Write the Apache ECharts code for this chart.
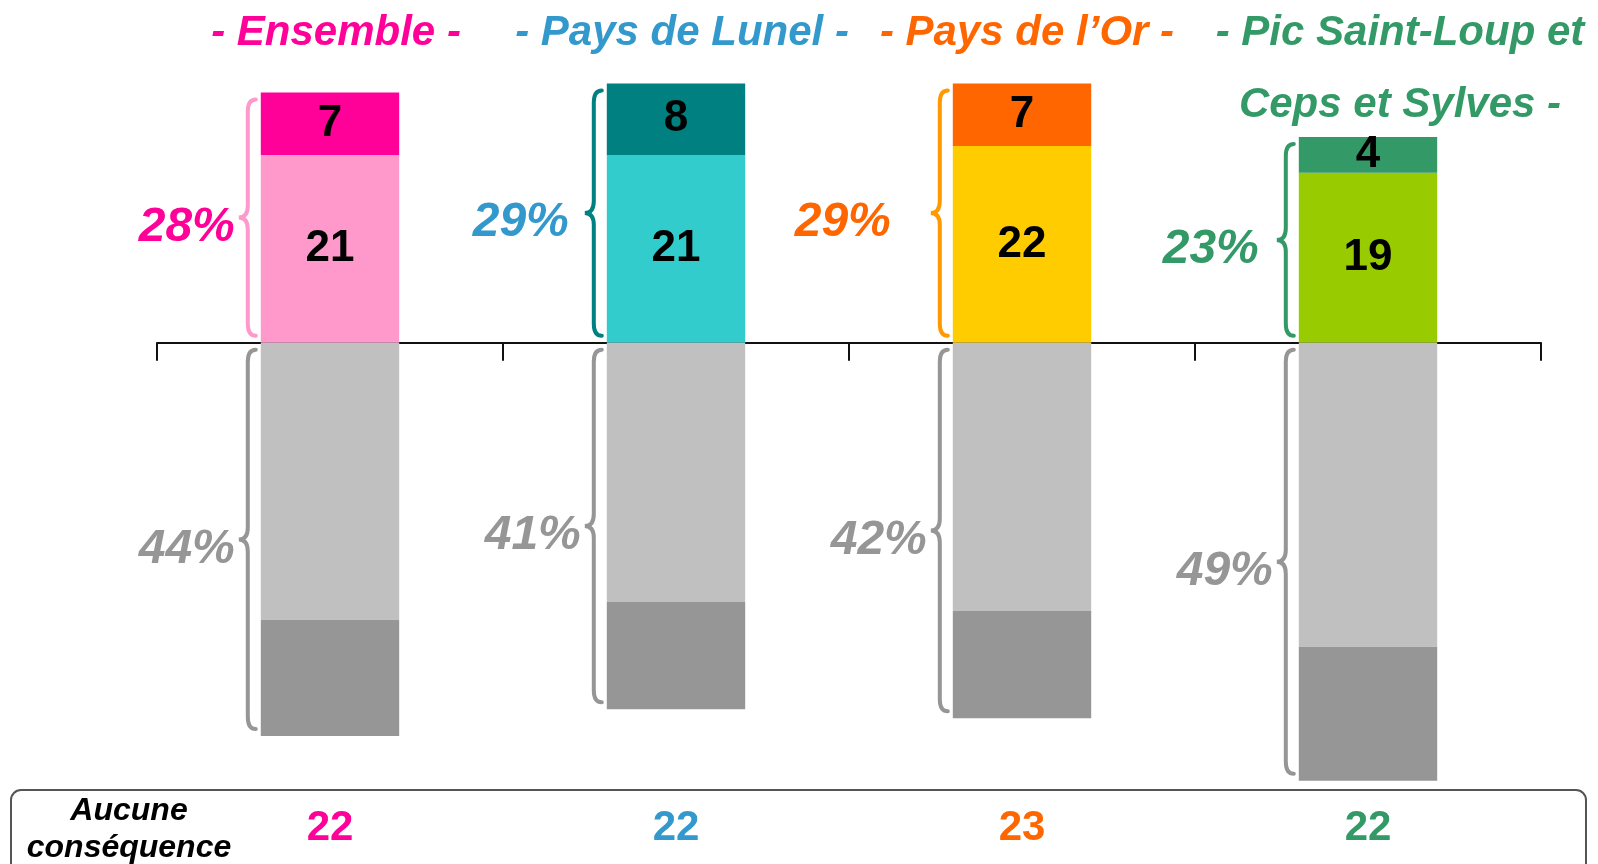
<!DOCTYPE html>
<html>
<head>
<meta charset="utf-8">
<title>Conséquences</title>
<script src="https://cdn.jsdelivr.net/npm/echarts@6/dist/echarts.min.js"></script>
<style>
  html, body { margin: 0; padding: 0; background: #fff; }
  #chart { width: 1598px; height: 864px; }
</style>
</head>
<body>
<div id="chart"></div>
<script>
// données
const categories = ['Ensemble', 'Pays de Lunel', 'Pays de l’Or', 'Pic Saint-Loup et Ceps et Sylves']
const headings = ['- Ensemble -', '- Pays de Lunel -', '- Pays de l’Or -', '- Pic Saint-Loup et\nCeps et Sylves -']
const posBase = [21, 21, 22, 19]
const posTop = [7, 8, 7, 4]
const negLight = [-31, -29, -30, -34]
const negDark = [-13, -12, -12, -15]
const posPct = [28, 29, 29, 23]
const negPct = [44, 41, 42, 49]
const aucune = [22, 22, 23, 22]

// couleurs
const baseColors = ['#FF99CC', '#33CCCC', '#FFCC00', '#99CC00']
const topColors = ['#FF0099', '#008080', '#FF6600', '#339966']
const braceColors = ['#FF99CC', '#008080', '#FF9900', '#339966']
const textColors = ['#FF0099', '#3399CC', '#FF6600', '#339966']
const grey = '#969696'
const FONT = '"Liberation Sans", Arial, sans-serif'

// petits décalages de mise en page des étiquettes %
const posLabelShift = [0, -12, -36, -14]
const headingX = [336, 682, 1027, 1400]

const chart = echarts.init(document.getElementById('chart'))

function braceItem (color, textColor, label, shift) {
  return function (params, api) {
    const i = api.value(0)
    const a = api.coord([i, api.value(1)])
    const b = api.coord([i, api.value(2)])
    const bw = api.size([1, 0])[0] * 0.4
    const left = a[0] - bw / 2
    const y1 = Math.min(a[1], b[1]) + 7
    const y2 = Math.max(a[1], b[1]) - 7
    const ym = (y1 + y2) / 2
    const xEnd = left - 5
    const xLine = left - 13
    const xTip = left - 22
    const r = 12
    const d = 'M' + xEnd + ' ' + y1 +
      ' Q' + xLine + ' ' + y1 + ' ' + xLine + ' ' + (y1 + r) +
      ' L' + xLine + ' ' + (ym - r) +
      ' Q' + xLine + ' ' + ym + ' ' + xTip + ' ' + ym +
      ' Q' + xLine + ' ' + ym + ' ' + xLine + ' ' + (ym + r) +
      ' L' + xLine + ' ' + (y2 - r) +
      ' Q' + xLine + ' ' + y2 + ' ' + xEnd + ' ' + y2
    const idx = params.dataIndex
    return {
      type: 'group',
      children: [
        {
          type: 'path',
          shape: { pathData: d },
          style: { stroke: color(idx), fill: null, lineWidth: 4, lineCap: 'round' }
        },
        {
          type: 'text',
          style: {
            x: xTip - 4 + shift(idx),
            y: ym + 10,
            text: label(idx) + '%',
            fill: textColor(idx),
            font: 'italic bold 48px ' + FONT,
            align: 'right',
            verticalAlign: 'middle'
          }
        }
      ]
    }
  }
}

const posBraceData = categories.map((c, i) => [i, posBase[i] + posTop[i], 0])
const negBraceData = categories.map((c, i) => [i, 0, negLight[i] + negDark[i]])

const barLabel = {
  show: true,
  position: 'inside',
  color: '#000',
  fontSize: 44,
  fontWeight: 'bold',
  fontFamily: FONT
}

const options = {
  animation: false,
  grid: {
    left: 157,
    right: 57,
    top: 74.5,
    bottom: 74.3
  },
  xAxis: [
    {
      type: 'category',
      data: categories,
      position: 'bottom',
      axisLine: { onZero: true, lineStyle: { color: '#111', width: 2 } },
      axisTick: { show: true, length: 18, lineStyle: { color: '#111', width: 2 } },
      axisLabel: { show: false },
      splitLine: { show: false }
    },
    {
      type: 'category',
      data: aucune.map((v, i) => ({
        value: String(v),
        textStyle: { color: textColors[i] }
      })),
      position: 'bottom',
      axisLine: { show: false, onZero: false },
      axisTick: { show: false },
      axisLabel: {
        interval: 0,
        margin: 18,
        verticalAlign: 'middle',
        fontSize: 42,
        fontWeight: 'bold',
        fontFamily: FONT
      }
    }
  ],
  yAxis: {
    type: 'value',
    min: -50,
    max: 30,
    show: false,
    splitLine: { show: false }
  },
  series: [
    {
      type: 'bar',
      stack: 'total',
      barWidth: '40%',
      data: posBase.map((v, i) => ({ value: v, itemStyle: { color: baseColors[i] } })),
      label: barLabel
    },
    {
      type: 'bar',
      stack: 'total',
      barWidth: '40%',
      data: posTop.map((v, i) => ({ value: v, itemStyle: { color: topColors[i] } })),
      label: barLabel
    },
    {
      type: 'bar',
      stack: 'total',
      barWidth: '40%',
      data: negLight,
      itemStyle: { color: '#C0C0C0' }
    },
    {
      type: 'bar',
      stack: 'total',
      barWidth: '40%',
      data: negDark,
      itemStyle: { color: grey }
    },
    {
      type: 'custom',
      data: posBraceData,
      encode: { x: 0, y: [1, 2] },
      renderItem: braceItem(i => braceColors[i], i => textColors[i], i => posPct[i], i => posLabelShift[i]),
      z: 5
    },
    {
      type: 'custom',
      data: negBraceData,
      encode: { x: 0, y: [1, 2] },
      renderItem: braceItem(() => grey, () => grey, i => negPct[i], () => 0),
      z: 5
    }
  ],
  graphic: [
    // cadre "Aucune conséquence"
    {
      type: 'rect',
      shape: { x: 11, y: 790, width: 1575, height: 110, r: 10 },
      style: { fill: null, stroke: '#555', lineWidth: 2 },
      z: 1
    },
    {
      type: 'text',
      style: {
        x: 129,
        y: 830,
        text: 'Aucune\nconséquence',
        fill: '#000',
        font: 'italic bold 32px ' + FONT,
        lineHeight: 37,
        align: 'center',
        verticalAlign: 'middle'
      }
    }
  ].concat(headings.map((h, i) => {
    const lines = h.split('\n').length
    return {
      type: 'text',
      style: {
        x: headingX[i],
        y: 33 + (lines - 1) * 36,
        text: h,
        fill: textColors[i],
        font: 'italic bold 42px ' + FONT,
        lineHeight: 72,
        align: 'center',
        verticalAlign: 'middle'
      }
    }
  }))
}

chart.setOption(options)
</script>
</body>
</html>
